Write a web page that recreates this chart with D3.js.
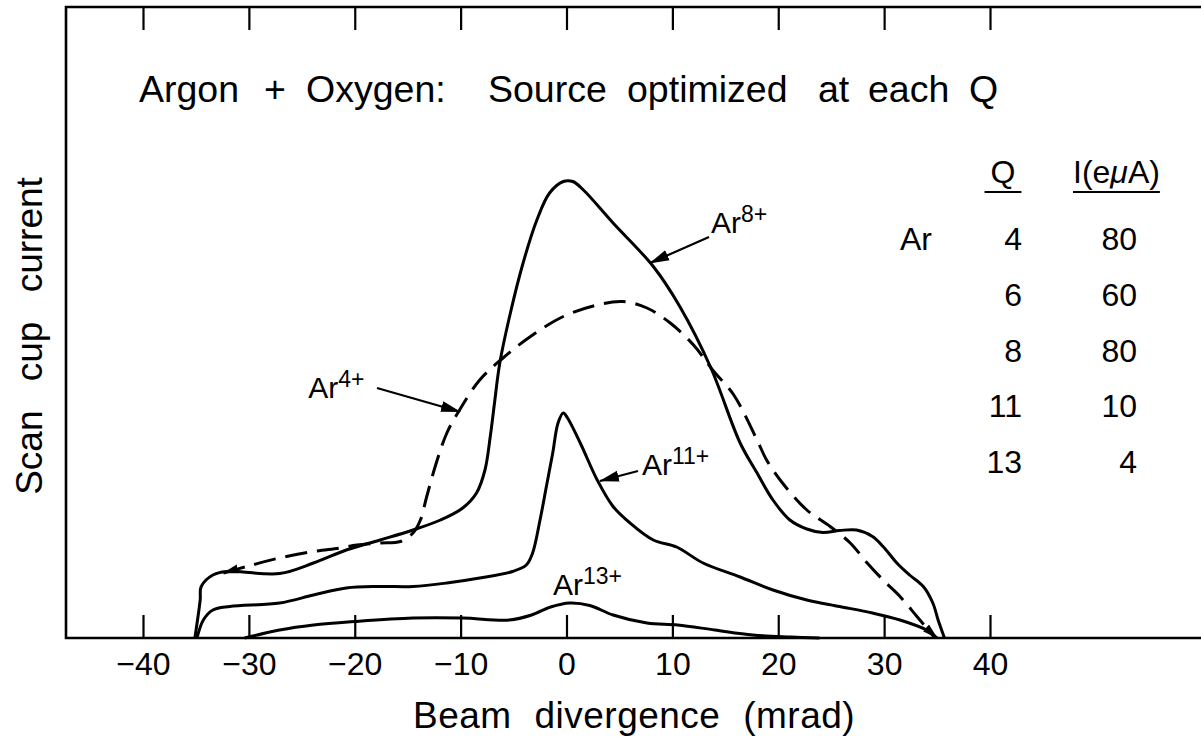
<!DOCTYPE html>
<html><head><meta charset="utf-8">
<script src="https://cdn.jsdelivr.net/npm/d3@7"></script>
<style>
html,body{margin:0;padding:0;background:#fff;}
svg{display:block;font-family:"Liberation Sans",Arial,Helvetica,sans-serif;}
</style>
</head><body>
<svg id="chart" width="1201" height="742"></svg>
<script>
// ---------------- data ----------------
const xTicks = [-40, -30, -20, -10, 0, 10, 20, 30, 40];

// Ar8+ (solid, tallest)
const ar8X = [-35.1,-34.6,-34.5,-33.4,-32.1,-27.1,-23.9,-20.8,-17.6,-14.5,-11.9,-9.8,-8.5,-7.7,-7.2,-6.8,-6.3,-5.3,-4.1,-2.8,-1.6,-0.3,0.6,1.6,4.4,8.2,10.7,13.6,16.4,18.0,19.5,21.1,22.7,24.2,25.8,27.4,28.9,29.9,31.2,32.4,33.7,34.6,35.1,35.7];
const ar8Y = [0,7.6,10.3,12.6,13.3,12.9,15.0,17.6,19.6,21.6,23.6,26.0,29.0,33.6,40.3,47.0,55.0,65.0,75.0,83.6,89.0,91.3,91.3,89.6,83.0,74.3,66.3,54.2,39.0,33.0,27.6,23.6,21.8,21.1,21.5,21.6,20.3,18.3,15.0,12.6,10.3,7.0,3.6,0];

// Ar4+ (dashed)
const ar4X = [-32.4,-30.2,-27.1,-23.9,-21.4,-19.8,-17.6,-15.7,-14.5,-13.8,-13.2,-12.3,-11.3,-10.1,-8.2,-6.0,-3.4,-0.3,2.9,5.3,7.6,9.8,12.0,13.8,15.8,18.0,18.9,20.4,22.7,24.9,26.8,28.4,29.9,31.5,33.1,34.8];
const ar4Y = [13.0,14.3,16.0,17.3,18.0,18.6,19.0,19.3,21.0,23.6,28.3,35.0,41.0,45.6,51.6,56.0,60.3,64.3,66.6,67.3,66.0,63.0,58.6,53.6,48.6,39.6,35.6,31.0,25.6,22.3,19.0,15.0,11.6,8.3,4.3,0];

// Ar11+ (solid, middle)
const ar11X = [-34.9,-34.3,-33.4,-31.8,-27.1,-23.9,-20.8,-17.6,-14.5,-11.3,-8.2,-5.1,-3.8,-3.2,-2.5,-1.9,-1.3,-0.8,-0.3,0.1,1.3,2.9,4.4,6.0,8.2,10.4,12.9,16.4,19.5,22.7,25.8,28.9,31.5,34.0,35.0];
const ar11Y = [0,3.6,5.6,6.3,7.0,8.6,10.0,10.3,10.3,11.0,12.0,13.3,14.6,17.0,23.6,30.3,37.0,43.0,45.0,44.0,39.0,31.6,26.3,23.0,19.6,18.2,15.0,12.2,9.6,7.6,6.3,5.0,3.6,1.6,0];

// Ar13+ (solid, lowest)
const ar13X = [-30.4,-27.1,-23.9,-20.0,-14.5,-9.8,-5.4,-3.3,-1.5,0.3,2.2,4.4,7.6,10.5,14.0,17.6,21.2,23.9];
const ar13Y = [0,1.6,2.6,3.3,4.0,4.0,3.6,4.6,6.2,7.0,6.5,4.6,3.0,2.6,1.6,0.6,0.2,0];

// curve labels and arrows (data units)
const labelSup  = ["8+", "4+", "11+", "13+"];
const labelX    = [13.65, -24.4, 7.13, -1.28];
const labelY    = [81.0, 48.0, 32.66, 8.6];
const arrowFromX = [13.46, -17.9, 6.75];
const arrowFromY = [80.2, 50.0, 33.4];
const arrowToX   = [7.89, -10.06, 3.16];
const arrowToY   = [75.0, 45.26, 31.4];

// table
const tableElement = "Ar";
const tableQ = [4, 6, 8, 11, 13];
const tableI = [80, 60, 80, 10, 4];

// ---------------- drawing ----------------
const W = 1201, H = 742;
const svg = d3.select("#chart");
const x = d3.scaleLinear().domain([-40, 40]).range([143, 990]);
const y = d3.scaleLinear().domain([0, 100]).range([638, 138]);

const frameLeft = 66, frameTop = 7;

// frame (open on the right)
svg.append("path")
  .attr("d", `M${W},${frameTop}H${frameLeft}V${y(0)}H${W}`)
  .attr("fill", "none").attr("stroke", "#000").attr("stroke-width", 2.6);

// bottom axis with inward ticks
const xb = svg.append("g")
  .attr("transform", `translate(0,${y(0)})`)
  .call(d3.axisBottom(x).tickValues(xTicks).tickSize(-23).tickPadding(0));
xb.attr("font-family", null).attr("font-size", null);
xb.select(".domain").remove();
xb.selectAll(".tick line").attr("stroke", "#000").attr("stroke-width", 2.2);
xb.selectAll(".tick text").attr("y", 37).attr("dy", null)
  .attr("font-size", 32).attr("fill", "#000");

// top axis with inward ticks, no labels
const xt = svg.append("g")
  .attr("transform", `translate(0,${frameTop})`)
  .call(d3.axisTop(x).tickValues(xTicks).tickSize(-23).tickFormat(""));
xt.select(".domain").remove();
xt.selectAll(".tick line").attr("stroke", "#000").attr("stroke-width", 2.2);

// markers
const defs = svg.append("defs");
defs.append("marker")
  .attr("id", "ah").attr("markerUnits", "userSpaceOnUse")
  .attr("viewBox", "0 -6 20 12").attr("markerWidth", 20).attr("markerHeight", 12)
  .attr("refX", 19).attr("refY", 0).attr("orient", "auto")
  .append("path").attr("d", "M0,-5.5L20,0L0,5.5Z").attr("fill", "#000");
defs.append("marker")
  .attr("id", "wedge").attr("markerUnits", "userSpaceOnUse")
  .attr("viewBox", "0 -5 16 10").attr("markerWidth", 16).attr("markerHeight", 10)
  .attr("refX", 15).attr("refY", 0).attr("orient", "auto-start-reverse")
  .append("path").attr("d", "M0,-4.5L16,0L0,4.5Z").attr("fill", "#000");

// curves
const line = d3.line().x(d => x(d[0])).y(d => y(d[1])).curve(d3.curveCatmullRom.alpha(0.5));
const series = [
  {xs: ar13X, ys: ar13Y, dash: null, ms: null, me: null},
  {xs: ar11X, ys: ar11Y, dash: null, ms: null, me: "url(#wedge)"},
  {xs: ar8X,  ys: ar8Y,  dash: null, ms: null, me: null},
  {xs: ar4X,  ys: ar4Y,  dash: "22,10", ms: "url(#wedge)", me: null}
];
svg.append("g").selectAll("path").data(series).join("path")
  .attr("d", s => line(s.xs.map((v, i) => [v, s.ys[i]])))
  .attr("fill", "none").attr("stroke", "#000").attr("stroke-width", 3)
  .attr("stroke-linejoin", "round")
  .attr("stroke-dasharray", s => s.dash)
  .attr("marker-start", s => s.ms)
  .attr("marker-end", s => s.me);

svg.append("g").selectAll("line").data(arrowFromX).join("line")
  .attr("x1", (d, i) => x(arrowFromX[i])).attr("y1", (d, i) => y(arrowFromY[i]))
  .attr("x2", (d, i) => x(arrowToX[i])).attr("y2", (d, i) => y(arrowToY[i]))
  .attr("stroke", "#000").attr("stroke-width", 2.2)
  .attr("marker-end", "url(#ah)");

// curve labels Ar^n+
const lab = svg.append("g").selectAll("text").data(labelSup).join("text")
  .attr("x", (d, i) => x(labelX[i])).attr("y", (d, i) => y(labelY[i]))
  .attr("font-size", 30).attr("fill", "#000");
lab.append("tspan").text("Ar");
lab.append("tspan").attr("dy", -11).attr("font-size", 23).text(d => d);

// title
const title = svg.append("text").attr("y", 102).attr("font-size", 37.5).attr("fill", "#000");
[["Argon", 139], ["+", 264], ["Oxygen:", 306], ["Source", 488], ["optimized", 627],
 ["at", 818], ["each", 868], ["Q", 969]].forEach(([w, px]) => {
  title.append("tspan").attr("x", px).text(w);
});

// axis titles
svg.append("text")
  .attr("x", 413).attr("y", 728)
  .attr("font-size", 37).attr("word-spacing", 12).attr("letter-spacing", 0.5)
  .attr("fill", "#000")
  .text("Beam divergence (mrad)");

svg.append("text")
  .attr("transform", "translate(42,336) rotate(-90)")
  .attr("text-anchor", "middle")
  .attr("font-size", 37).attr("word-spacing", 19).attr("fill", "#000")
  .text("Scan cup current");

// table
const rowY = d3.scaleLinear().domain([0, tableQ.length - 1]).range([250, 473]);
const tbl = svg.append("g").attr("font-size", 32).attr("fill", "#000");
const qRight = 1022, iRight = 1137;

const qHead = tbl.append("text").attr("x", 1003).attr("y", 183).attr("text-anchor", "middle").text("Q");
const iHead = tbl.append("text").attr("x", 1073).attr("y", 183);
iHead.append("tspan").text("I(e");
iHead.append("tspan").attr("font-style", "italic").text("μ");
iHead.append("tspan").text("A)");
const qb = qHead.node().getBBox(), ib = iHead.node().getBBox();
tbl.append("line").attr("x1", qb.x - 6).attr("x2", qb.x + qb.width + 6)
  .attr("y1", 192).attr("y2", 192).attr("stroke", "#000").attr("stroke-width", 2.2);
tbl.append("line").attr("x1", ib.x).attr("x2", ib.x + ib.width)
  .attr("y1", 192).attr("y2", 192).attr("stroke", "#000").attr("stroke-width", 2.2);

tbl.append("text").attr("x", 900).attr("y", rowY(0)).text(tableElement);
tbl.selectAll("text.q").data(tableQ).join("text").attr("class", "q")
  .attr("x", qRight).attr("y", (d, i) => rowY(i)).attr("text-anchor", "end").text(d => d);
tbl.selectAll("text.i").data(tableI).join("text").attr("class", "i")
  .attr("x", iRight).attr("y", (d, i) => rowY(i)).attr("text-anchor", "end").text(d => d);
</script>
</body></html>
